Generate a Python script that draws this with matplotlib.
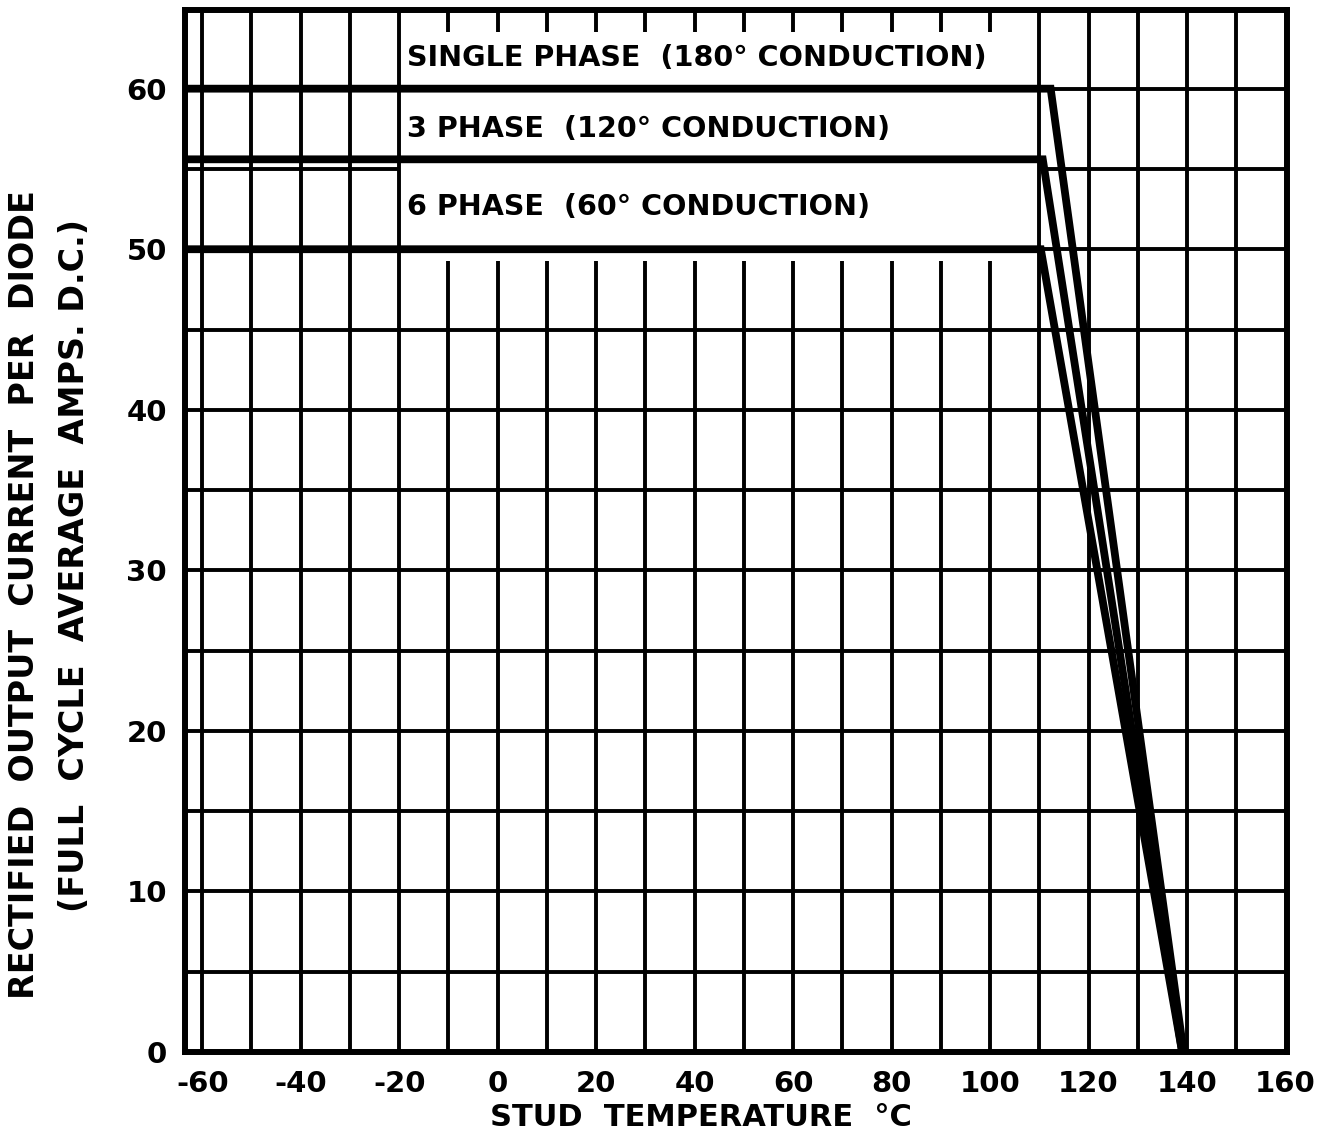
import numpy as np
import matplotlib
matplotlib.use("Agg")
import matplotlib.pyplot as plt

# ---- data ----
single_x = [-63.5, 112.3, 139.3]
single_y = [60.0, 60.0, 0.0]
three_x = [-63.5, 110.7, 139.0]
three_y = [55.6, 55.6, 0.0]
six_x = [-63.5, 110.3, 139.0]
six_y = [50.0, 50.0, 0.0]

labels = ["SINGLE PHASE  (180° CONDUCTION)",
          "3 PHASE  (120° CONDUCTION)",
          "6 PHASE  (60° CONDUCTION)"]
label_y = [61.9, 57.5, 52.6]

x_ticks = [-60, -40, -20, 0, 20, 40, 60, 80, 100, 120, 140, 160]
y_ticks = [0, 10, 20, 30, 40, 50, 60]

XMIN, XMAX = -63.5, 160.3
YMIN, YMAX = 0, 64.9
BOX_X = (-20, 110)   # label box without grid
BOX_Y = (50, YMAX)

fig = plt.figure(figsize=(13.35, 11.37), dpi=100)
ax = fig.add_axes([185/1335, 85/1137, (1287-185)/1335, (1052-10)/1137])
ax.set_xlim(XMIN, XMAX)
ax.set_ylim(YMIN, YMAX)

grid_lw = 2.8
gkw = dict(color="black", lw=grid_lw, zorder=1, solid_capstyle="butt")

# vertical grid lines
for gx in np.arange(-60, 160, 10):
    if BOX_X[0] < gx < BOX_X[1]:
        ax.plot([gx, gx], [YMIN, 49.25], **gkw)
        ax.plot([gx, gx], [63.5, YMAX], **gkw)
    else:
        ax.plot([gx, gx], [YMIN, YMAX], **gkw)

# horizontal grid lines
for gy in np.arange(5, 65, 5):
    if BOX_Y[0] < gy < BOX_Y[1]:
        ax.plot([XMIN, BOX_X[0]], [gy, gy], **gkw)
        ax.plot([BOX_X[1], XMAX], [gy, gy], **gkw)
    else:
        ax.plot([XMIN, XMAX], [gy, gy], **gkw)

# curves
ckw = dict(color="black", lw=5.6, zorder=3, solid_joinstyle="miter")
ax.plot(single_x, single_y, **ckw)
ax.plot(three_x, three_y, **ckw)
ax.plot(six_x, six_y, **ckw)

# labels in the box
for t, yy in zip(labels, label_y):
    ax.text(-18.4, yy, t, fontsize=20.6, fontweight="bold", va="center",
            ha="left", zorder=4, family="DejaVu Sans")

for s in ax.spines.values():
    s.set_linewidth(4.3)
    s.set_zorder(5)

ax.set_xticks(x_ticks)
ax.set_xticklabels([str(v) for v in x_ticks])
ax.set_yticks(y_ticks)
ax.set_yticklabels([str(v) for v in y_ticks])
ax.tick_params(length=0, labelsize=21, pad=13)
for lab in ax.get_xticklabels() + ax.get_yticklabels():
    lab.set_fontweight("bold")

ax.set_xlabel("STUD  TEMPERATURE  °C", fontsize=22, fontweight="bold")
ax.xaxis.set_label_coords((701-185)/1102, -66/1042)
ax.xaxis.label.set_va("center")

fig.text(25/1335, 1-595/1137, "RECTIFIED  OUTPUT  CURRENT  PER  DIODE",
         rotation=90, ha="center", va="center", fontsize=24, fontweight="bold")
fig.text(75/1335, 1-565/1137, "(FULL  CYCLE  AVERAGE  AMPS. D.C.)",
         rotation=90, ha="center", va="center", fontsize=24, fontweight="bold")

fig.savefig("out.png", dpi=100)
